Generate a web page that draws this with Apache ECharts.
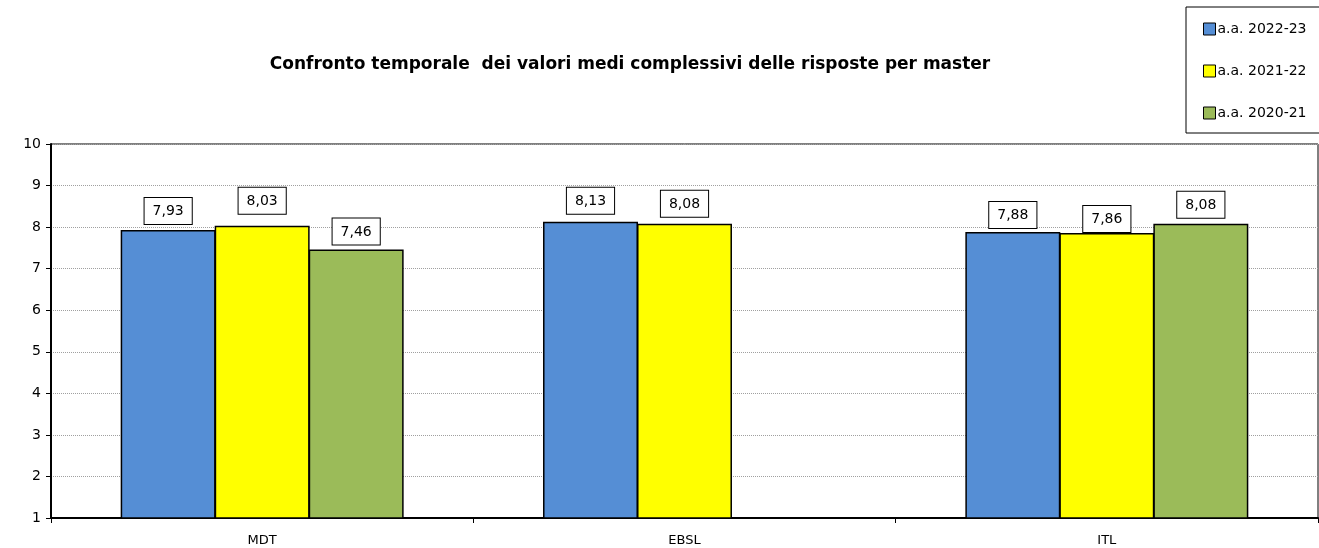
<!DOCTYPE html>
<html>
<head>
<meta charset="utf-8">
<script src="https://cdn.jsdelivr.net/npm/echarts@6/dist/echarts.min.js"></script>
<style>
  html, body { margin: 0; padding: 0; background: #fff; }
  #chart { width: 1319px; height: 548px; }
</style>
</head>
<body>
<div id="chart"></div>
<script>
// dati
const masters = ['MDT', 'EBSL', 'ITL']
const aa2223 = [7.93, 8.13, 7.88]
const aa2122 = [8.03, 8.08, 7.86]
const aa2021 = [7.46, null, 8.08] // EBSL senza valore
const seriesNames = ['a.a. 2022-23', 'a.a. 2021-22', 'a.a. 2020-21']
const colors = ['#558ED5', '#FFFF00', '#9BBB59']
// distanza delle etichette dalla barra (come nell'originale)
const labelDist = [[6, 8, 4], [12, 7, 1], [5, 0, 6]]

const chart = echarts.init(document.getElementById('chart'))

function makeSeries (idx, data) {
  return {
    name: seriesNames[idx],
    type: 'bar',
    data: data.map((v, i) => ({
      value: v,
      label: { distance: labelDist[idx][i] }
    })),
    barGap: '-1%',
    barCategoryGap: '33%',
    itemStyle: { color: colors[idx], borderColor: '#000', borderWidth: 1.5 },
    label: {
      show: true,
      position: 'top',
      color: '#000',
      fontFamily: 'DejaVu Sans',
      fontSize: 14,
      lineHeight: 15,
      backgroundColor: '#fff',
      borderColor: '#000',
      borderWidth: 1,
      padding: [6, 8, 5, 8],
      formatter: p => p.value == null ? '' : p.value.toFixed(2).replace('.', ',')
    }
  }
}

const option = {
  animation: false,
  title: {
    text: 'Confronto temporale  dei valori medi complessivi delle risposte per master',
    left: 625,
    textAlign: 'center',
    top: 51,
    textStyle: { fontFamily: 'DejaVu Sans', fontWeight: 'bold', fontSize: 17, color: '#000' }
  },
  legend: {
    orient: 'vertical',
    left: 1186,
    top: 7,
    padding: [15, 20, 13, 17],
    itemGap: 28,
    itemWidth: 12,
    itemHeight: 12,
    borderColor: '#000',
    borderWidth: 1,
    icon: 'rect',
    textStyle: { fontFamily: 'DejaVu Sans', fontSize: 14, lineHeight: 14, color: '#000', padding: [0, 0, 0, -3] },
    itemStyle: { borderColor: '#000', borderWidth: 1 },
    data: seriesNames
  },
  grid: {
    left: 51,
    right: 1,
    top: 144,
    bottom: 30,
    show: true,
    borderColor: '#000',
    borderWidth: 1
  },
  xAxis: {
    type: 'category',
    data: masters,
    axisLine: { lineStyle: { color: '#000', width: 2 } },
    axisTick: { show: true, length: 5, lineStyle: { color: '#000' } },
    axisLabel: { color: '#000', fontFamily: 'DejaVu Sans', fontSize: 13, margin: 16 }
  },
  yAxis: {
    type: 'value',
    min: 1,
    max: 10,
    interval: 1,
    axisLine: { show: true, lineStyle: { color: '#000', width: 2 } },
    axisTick: { show: true, length: 5, lineStyle: { color: '#000' } },
    axisLabel: { color: '#000', fontFamily: 'DejaVu Sans', fontSize: 14, margin: 10 },
    splitLine: { lineStyle: { color: '#a0a0a0', type: 'dotted', width: 1 } }
  },
  series: [
    makeSeries(0, aa2223),
    makeSeries(1, aa2122),
    makeSeries(2, aa2021)
  ]
}

chart.setOption(option)
</script>
</body>
</html>
